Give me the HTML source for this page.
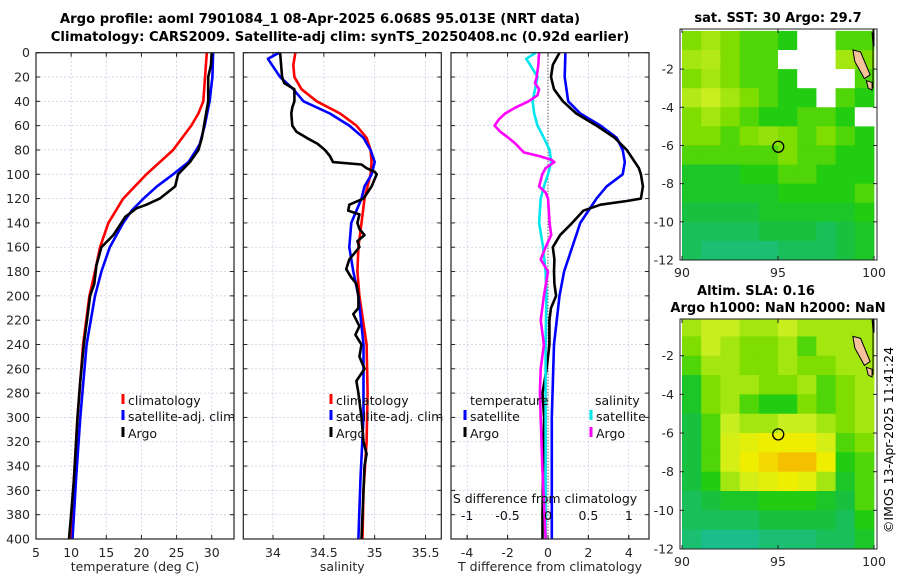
<!DOCTYPE html>
<html><head><meta charset="utf-8"><style>
body{margin:0;background:#fff;}
svg{display:block;font-family:"DejaVu Sans","Liberation Sans",sans-serif;}
</style></head><body>
<svg id="fig" width="900" height="580" viewBox="0 0 900 580" xmlns="http://www.w3.org/2000/svg">
<text x="320" y="23" text-anchor="middle" font-size="13.2" font-weight="bold">Argo profile: aoml 7901084_1 08-Apr-2025 6.068S 95.013E (NRT data)</text>
<text x="340" y="41" text-anchor="middle" font-size="13.2" font-weight="bold">Climatology: CARS2009. Satellite-adj clim: synTS_20250408.nc (0.92d earlier)</text>
<text x="778" y="22" text-anchor="middle" font-size="13" font-weight="bold">sat. SST: 30 Argo: 29.7</text>
<text x="756" y="295" text-anchor="middle" font-size="13" font-weight="bold">Altim. SLA: 0.16</text>
<text x="778" y="312" text-anchor="middle" font-size="13" font-weight="bold">Argo h1000: NaN h2000: NaN</text>
<text transform="translate(893,440) rotate(-90)" text-anchor="middle" font-size="12.5">©IMOS 13-Apr-2025 11:41:24</text>
<g id="g"></g>
</svg>
<script>
// ---- profile data (depth in m) ----
const tClimDepth=[0,40,50,60,80,100,120,140,160,180,200,240,300,350,400];
const tClimVal=[29.3,28.8,28.1,27.1,24.5,20.7,17.4,15.3,14.1,13.4,12.6,11.7,10.9,10.4,10.0];
const tSatDepth=[0,20,40,60,75,80,90,100,110,120,130,140,160,180,200,240,300,350,400];
const tSatVal=[30.2,30.1,29.7,29.0,28.3,27.8,26.7,24.5,22.2,20.3,18.6,17.4,15.5,14.3,13.4,12.2,11.3,10.7,10.2];
const tArgoDepth=[0,10,20,40,60,70,80,90,100,110,120,125,128,135,150,160,175,190,200,240,270,300,350,380,400];
const tArgoVal=[30.0,29.9,29.5,29.5,28.9,28.6,28.1,26.9,25.2,24.8,22.6,20.7,19.3,17.7,16.0,14.3,13.6,13.3,12.7,11.8,11.3,10.9,10.4,10.0,9.7];
const sClimDepth=[0,10,20,30,40,50,60,70,80,90,100,120,140,160,180,200,240,280,320,360,400];
const sClimVal=[34.22,34.20,34.21,34.28,34.43,34.66,34.82,34.92,34.96,34.97,34.96,34.90,34.87,34.84,34.83,34.85,34.92,34.93,34.92,34.89,34.88];
const sSatDepth=[0,5,20,30,40,50,60,70,80,90,100,110,120,140,160,180,200,240,300,350,400];
const sSatVal=[34.06,33.95,34.07,34.20,34.30,34.56,34.75,34.89,34.96,35.00,34.97,34.90,34.87,34.77,34.75,34.79,34.84,34.89,34.89,34.86,34.84];
const sArgoDepth=[0,10,20,25,30,40,45,50,60,65,70,75,80,85,90,92,95,98,100,110,120,125,130,133,140,145,150,155,160,165,170,178,185,190,200,210,215,225,232,240,250,260,270,280,300,320,330,340,360,400];
const sArgoVal=[34.07,34.08,34.09,34.11,34.21,34.21,34.19,34.18,34.19,34.23,34.33,34.44,34.51,34.56,34.59,34.87,34.92,35.00,35.02,34.97,34.89,34.75,34.74,34.85,34.83,34.85,34.90,34.83,34.85,34.80,34.75,34.72,34.77,34.82,34.84,34.84,34.79,34.85,34.81,34.87,34.85,34.90,34.82,34.84,34.87,34.89,34.92,34.90,34.89,34.87];
const dTSatDepth=[0,20,40,50,60,70,80,90,100,110,120,140,160,180,200,240,300,400];
const dTSatVal=[0.86,0.83,1.0,1.6,2.6,3.4,3.7,3.8,3.7,2.9,2.4,1.6,1.2,0.8,0.57,0.3,0.19,0.19];
const dTArgoDepth=[0,10,20,30,40,50,60,70,80,90,95,100,110,120,122,125,130,140,150,160,170,180,190,200,210,220,240,260,280,300,340,380,400];
const dTArgoVal=[0.57,0.24,0.15,0.3,0.74,1.4,2.4,3.3,3.9,4.3,4.5,4.6,4.7,4.6,3.9,2.6,1.75,1.2,0.6,0.24,0.32,0.3,0.32,0.4,0.15,0.07,0.07,-0.07,-0.27,-0.19,-0.24,-0.27,-0.27];
const dSSatDepth=[0,5,10,20,40,50,60,70,80,90,100,110,120,140,160,180,200,240,300,400];
const dSSatVal=[-0.15,-0.27,-0.22,-0.13,-0.19,-0.17,-0.13,-0.05,0.02,0.04,0.0,-0.05,-0.09,-0.11,-0.06,-0.03,-0.02,-0.03,-0.03,-0.03];
const dSArgoDepth=[0,10,20,25,30,35,40,45,50,55,60,65,70,75,82,85,88,90,95,100,110,115,120,140,150,160,170,180,200,220,240,260,280,300,340,400];
const dSArgoVal=[-0.11,-0.12,-0.14,-0.16,-0.11,-0.13,-0.24,-0.40,-0.53,-0.61,-0.66,-0.59,-0.49,-0.40,-0.30,-0.11,0.04,0.08,-0.03,-0.07,-0.11,-0.03,0.0,0.02,0.04,-0.03,-0.09,0.0,-0.05,-0.09,-0.05,-0.09,-0.10,-0.09,-0.07,-0.03];
// tick labels
const depthTicks=[0,20,40,60,80,100,120,140,160,180,200,220,240,260,280,300,320,340,360,380,400];
const tempTicks=[5,10,15,20,25,30];
const salTicks=[34,34.5,35,35.5];
const dTTicks=[-4,-2,0,2,4];
const dSTicks=[-1,-0.5,0,0.5,1];
// ---- map data (rows lat 0..-12, cols lon 90..100; null = no data) ----
const sstGrid=[
[.55,.6,.55,.5,.5,.45,null,null,.5,.5],
[.6,.62,.55,.5,.5,null,null,null,.6,.55],
[.55,.6,.55,.5,.5,.45,null,null,null,.5],
[.62,.66,.6,.55,.5,.45,.45,null,.5,.45],
[.55,.6,.55,.5,.45,.45,.5,.5,.45,null],
[.55,.55,.5,.55,.58,.55,.5,.55,.5,.45],
[.5,.5,.5,.5,.5,.55,.5,.5,.45,.45],
[.4,.4,.4,.45,.45,.5,.5,.45,.45,.45],
[.4,.4,.4,.4,.4,.45,.45,.45,.45,.5],
[.35,.35,.35,.35,.4,.4,.4,.4,.4,.45],
[.3,.3,.3,.3,.35,.35,.35,.3,.35,.4],
[.3,.25,.25,.25,.25,.3,.3,.3,.35,.4]];
const slaGrid=[
[.6,.65,.65,.6,.6,.65,.6,.6,.6,.6],
[.55,.65,.6,.55,.55,.6,.5,.6,.6,.6],
[.5,.6,.6,.55,.55,.6,.55,.55,.6,.6],
[.4,.55,.6,.6,.55,.55,.6,.5,.55,.6],
[.4,.55,.6,.5,.45,.45,.55,.5,.55,.6],
[.35,.5,.65,.6,.6,.65,.65,.6,.55,.6],
[.35,.5,.7,.75,.8,.8,.8,.7,.5,.55],
[.35,.5,.7,.8,.85,.9,.9,.8,.45,.5],
[.35,.45,.6,.7,.75,.8,.75,.6,.4,.5],
[.3,.35,.4,.4,.45,.45,.45,.4,.35,.5],
[.3,.3,.3,.3,.35,.35,.35,.35,.3,.45],
[.25,.2,.2,.2,.25,.25,.25,.3,.3,.4]];
const floatLon=95.013, floatLat=-6.068;
const mapLatTicks=[-2,-4,-6,-8,-10,-12];
const mapLonTicks=[90,95,100];

const NS='http://www.w3.org/2000/svg';
const G=document.getElementById('g');
function el(tag,attrs,parent){const e=document.createElementNS(NS,tag);for(const k in attrs)e.setAttribute(k,attrs[k]);(parent||G).appendChild(e);return e;}
function txt(s,attrs,parent){const e=el('text',attrs,parent);e.textContent=s;return e;}
const FS=12.5;

const Y0=52.7,Y1=539;
const yD=d=>Y0+d*(Y1-Y0)/400;
const panels=[
 {name:'temperature-panel',x0:36,x1:234,lo:5,hi:33.17,ticks:tempTicks,label:'temperature (deg C)',yl:true},
 {name:'salinity-panel',x0:243.3,x1:441.3,lo:33.708,hi:35.655,ticks:salTicks,label:'salinity',yl:false},
 {name:'difference-panel',x0:451,x1:649,lo:-4.8,hi:5.0,ticks:dTTicks,label:'T difference from climatology',yl:false}
];
panels.forEach(p=>{p.sx=v=>p.x0+(v-p.lo)*(p.x1-p.x0)/(p.hi-p.lo);});

panels.forEach((p,pi)=>{
 const g=el('g',{});
 
 
 depthTicks.forEach(d=>{
  const l=el('line',{x1:p.x0,x2:p.x1,y1:yD(d),y2:yD(d),stroke:'#c9cfe2','stroke-width':0.8,'stroke-dasharray':'2,2'},g);
  
  
  el('line',{x1:p.x0,x2:p.x0+4,y1:yD(d),y2:yD(d),stroke:'#222'},g);
  el('line',{x1:p.x1-4,x2:p.x1,y1:yD(d),y2:yD(d),stroke:'#222'},g);
  if(p.yl){const t=txt(String(d),{x:p.x0-6,y:yD(d)+4.5,'text-anchor':'end','font-size':FS,fill:'#262626'},g);
   }
 });
 p.ticks.forEach(v=>{
  const x=p.sx(v);
  el('line',{x1:x,x2:x,y1:Y0,y2:Y1,stroke:'#c9cfe2','stroke-width':0.8,'stroke-dasharray':'2,2'},g);
  el('line',{x1:x,x2:x,y1:Y1-4,y2:Y1,stroke:'#222'},g);
  el('line',{x1:x,x2:x,y1:Y0,y2:Y0+4,stroke:'#222'},g);
  const t=txt(String(v),{x:x,y:Y1+18,'text-anchor':'middle','font-size':FS,fill:'#262626'},g);
  
 });
 const lab=txt(p.label,{x:(p.x0+p.x1)/2,y:571,'text-anchor':'middle','font-size':FS,fill:'#262626'},g);
 
 p.g=g;
});

const P1=panels[0],P2=panels[1],P3=panels[2];
const sS=v=>P3.sx(0)+v*(P3.sx(1)-P3.sx(0))*4;
function line(p,sx,depths,vals,color,name,w){
 const pts=depths.map((d,i)=>sx(vals[i]).toFixed(1)+','+yD(d).toFixed(1)).join(' ');
 const l=el('polyline',{points:pts,fill:'none',stroke:color,'stroke-width':w||2.6,'stroke-linejoin':'round'},p.g);
 
 
}
const zl=el('line',{x1:P3.sx(0),x2:P3.sx(0),y1:Y0,y2:Y1,stroke:'#333','stroke-width':1,'stroke-dasharray':'1,2'},P3.g);


line(P1,P1.sx,tClimDepth,tClimVal,'#ff0000','temperature-climatology-line');
line(P1,P1.sx,tSatDepth,tSatVal,'#0000ff','temperature-satellite-line');
line(P1,P1.sx,tArgoDepth,tArgoVal,'#000000','temperature-argo-line');
line(P2,P2.sx,sClimDepth,sClimVal,'#ff0000','salinity-climatology-line');
line(P2,P2.sx,sSatDepth,sSatVal,'#0000ff','salinity-satellite-line');
line(P2,P2.sx,sArgoDepth,sArgoVal,'#000000','salinity-argo-line');
line(P3,P3.sx,dTSatDepth,dTSatVal,'#0000ff','t-diff-satellite-line');
line(P3,P3.sx,dTArgoDepth,dTArgoVal,'#000000','t-diff-argo-line');
line(P3,sS,dSSatDepth,dSSatVal,'#00e5ee','s-diff-satellite-line');
line(P3,sS,dSArgoDepth,dSArgoVal,'#ff00ff','s-diff-argo-line');

const st=txt('S difference from climatology',{x:545,y:503,'text-anchor':'middle','font-size':FS,fill:'#111'},P3.g);

dSTicks.forEach(v=>{const t=txt(String(v),{x:sS(v),y:520,'text-anchor':'middle','font-size':FS,fill:'#111'},P3.g);
 
 el('line',{x1:sS(v),x2:sS(v),y1:Y1-4,y2:Y1,stroke:'#222'},P3.g);});

function legend(parent,x,y,color,label){
 const g=el('g',{},parent);
 
 
 el('line',{x1:x,x2:x,y1:y-11,y2:y-1,stroke:color,'stroke-width':3},g);
 txt(label,{x:x+5,y:y,'font-size':FS,fill:'#111'},g);
}
legend(P1.g,123,405,'#ff0000','climatology');
legend(P1.g,123,421,'#0000ff','satellite-adj. clim');
legend(P1.g,123,438,'#000000','Argo');
legend(P2.g,331,405,'#ff0000','climatology');
legend(P2.g,331,421,'#0000ff','satellite-adj. clim');
legend(P2.g,331,438,'#000000','Argo');
txt('temperature',{x:470,y:405,'font-size':FS,fill:'#111'},P3.g);
txt('salinity',{x:595,y:405,'font-size':FS,fill:'#111'},P3.g);
legend(P3.g,465,421,'#0000ff','satellite');
legend(P3.g,465,438,'#000000','Argo');
legend(P3.g,591,421,'#00e5ee','satellite');
legend(P3.g,591,438,'#ff00ff','Argo');

panels.forEach(p=>{el('rect',{x:p.x0,y:Y0,width:p.x1-p.x0,height:Y1-Y0,fill:'none',stroke:'#222','stroke-width':1.2},p.g);});

// ---- maps ----
const stops=[[0.2,[27,190,138]],[0.35,[24,192,64]],[0.45,[34,204,16]],[0.55,[127,221,0]],[0.65,[200,238,32]],[0.8,[240,238,0]],[0.9,[245,192,0]],[1,[245,160,0]]];
function cmap(v){
 if(v<=stops[0][0])return 'rgb('+stops[0][1]+')';
 for(let i=1;i<stops.length;i++){if(v<=stops[i][0]){const a=stops[i-1],b=stops[i],t=(v-a[0])/(b[0]-a[0]);
  return 'rgb('+a[1].map((c,k)=>Math.round(c+t*(b[1][k]-c))).join(',')+')';}}
 return 'rgb('+stops[stops.length-1][1]+')';
}
function map(name,grid,x0,x1,y0,y1,latTop){
 const g=el('g',{});
 
 
 const lx=lon=>682+(lon-90)*19.2;
 const ly=lat=>y1-(lat+12)*(y1-y0)/(latTop+12);
 for(let r=0;r<grid.length;r++)for(let c=0;c<grid[r].length;c++){
  const v=grid[r][c];
  const xa=Math.max(x0,lx(90+c)),xb=Math.min(x1,lx(91+c));
  const ya=Math.max(y0,ly(-r)),yb=ly(-r-1);
  const cell=el('rect',{x:xa,y:ya,width:xb-xa+0.4,height:yb-ya+0.4,fill:v===null?'#ffffff':cmap(v)},g);
  
  
 }
 const land=[[[98.9,-1.0],[99.3,-1.1],[99.8,-2.3],[99.5,-2.5],[99.0,-1.6]],[[99.6,-2.6],[99.9,-2.7],[99.9,-3.1],[99.7,-3.0]],[[99.9,-0.1],[100,-0.1],[100,-0.8],[99.95,-0.7]]];
 land.forEach(poly=>{const l=el('polygon',{points:poly.map(p=>lx(p[0])+','+ly(p[1])).join(' '),fill:'#f5c29c',stroke:'#000','stroke-width':1},g);
  });
 el('line',{x1:lx(99.95),x2:lx(99.95),y1:y0,y2:ly(-3),stroke:'#000','stroke-width':1},g);
 const m=el('circle',{cx:lx(floatLon),cy:ly(floatLat),r:5.5,fill:'none',stroke:'#000','stroke-width':1.3},g);
 
 el('rect',{x:x0,y:y0,width:x1-x0,height:y1-y0,fill:'none',stroke:'#222','stroke-width':1},g);
 mapLatTicks.forEach(lat=>{const y=ly(lat);el('line',{x1:x0,x2:x0+4,y1:y,y2:y,stroke:'#222'},g);el('line',{x1:x1-4,x2:x1,y1:y,y2:y,stroke:'#222'},g);
  const t=txt(String(lat),{x:x0-6,y:y+4.5,'text-anchor':'end','font-size':FS,fill:'#262626'},g);
  });
 mapLonTicks.forEach(lon=>{const x=lx(lon);el('line',{x1:x,x2:x,y1:y1-4,y2:y1,stroke:'#222'},g);el('line',{x1:x,x2:x,y1:y0,y2:y0+4,stroke:'#222'},g);
  const t=txt(String(lon),{x:x,y:y1+17,'text-anchor':'middle','font-size':FS,fill:'#262626'},g);
  });
}
map('sst-map',sstGrid,680,877,29,260,0.1);
map('sla-map',slaGrid,680,877,319,549,-0.1);
</script>
</body></html>
